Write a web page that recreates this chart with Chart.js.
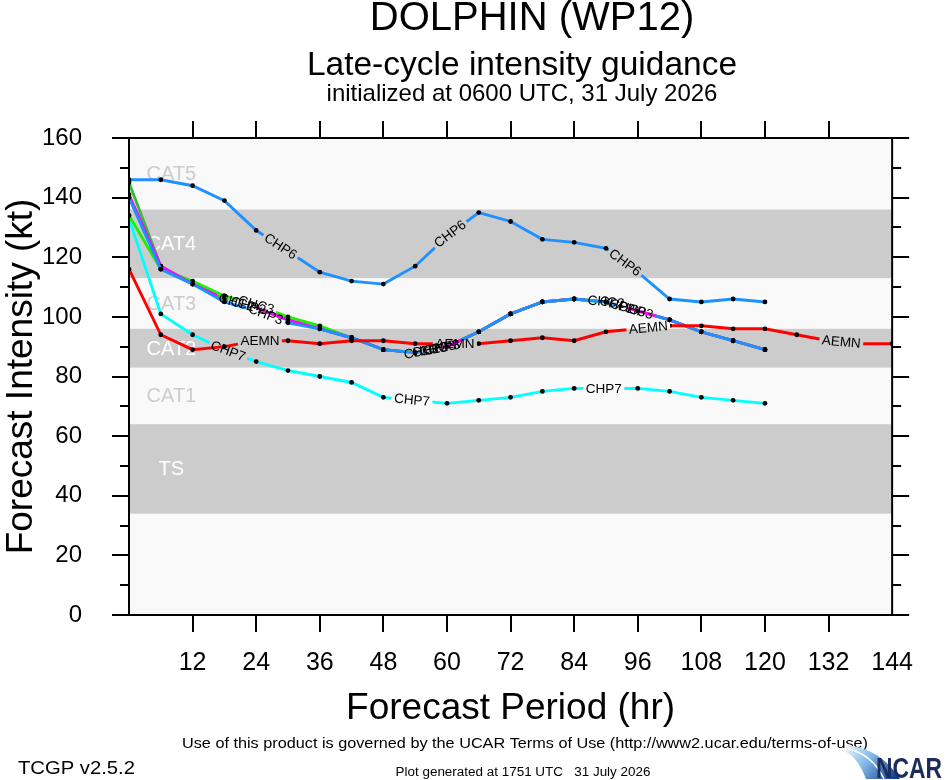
<!DOCTYPE html>
<html><head><meta charset="utf-8">
<script src="https://cdn.jsdelivr.net/npm/chart.js@4.4.1/dist/chart.umd.min.js"></script>
<style>html,body{margin:0;padding:0;background:#fff;}canvas{display:block;}</style>
</head><body>
<canvas id="c" width="946" height="780"></canvas>
<script>
// ---------- data ----------
const hours = [0,6,12,18,24,30,36,42,48,54,60,66,72,78,84,90,96,102,108,114,120];
const hoursLong = [0,6,12,18,24,30,36,42,48,54,60,66,72,78,84,90,96,102,108,114,120,126,132,138,144];
const chp6 = [146,146,144,139,129,122,115,112,111,117,127,135,132,126,125,123,115,106,105,106,105];
const chp7 = [133,101,94,89,85,82,80,78,73,72,71,72,73,75,76,76,76,75,73,72,71];
const aemn = [116,94,89,90,92,92,91,92,92,91,91,91,92,93,92,95,96,97,97,96,96,94,92,91,91];
const chp3 = [140,116,111,105,102,98,96,93,89,88,90,95,101,105,106,105,102,99,95,92,89];
const chc2 = [141,117,111,106,103,99,96,93,89,88,90,95,101,105,106,105,102,99,95,92,89];
const chc3 = [134,116,112,107,104,100,97,93,89,88,90,95,101,105,106,105,102,99,95,92,89];
const chp2 = [145,117,111,106,103,99,96,93,89,88,90,95,101,105,106,105,102,99,95,92,89];
const xTicks = [12,24,36,48,60,72,84,96,108,120,132,144];
const yTicks = [0,20,40,60,80,100,120,140,160];
const bandEdges = [0,34,64,83,96,113,136,160];
const bandNames = ['','TS','CAT1','CAT2','CAT3','CAT4','CAT5'];
// label positions along each line (forecast hour)
const labelHours = {
  CHP6:[28.6,60.6,93.6], CHP7:[18.7,53.4,89.6], AEMN:[24.7,61.5,98,134.4],
  CHC2:[20.3,55.3,90], CHP2:[22.5,56.8,92.1], CHC3:[24,58.2,94.1], CHP3:[25.8,59.1,95.6]
};

const FONT = "'Liberation Sans', Arial, Helvetica, sans-serif";
const LBL = 13.5;
Chart.defaults.font.family = FONT;

function mk(label, xs, ys, color, order){
  return { label, data: xs.map((x,i)=>({x, y: ys[i]})), borderColor: color, backgroundColor: color,
    borderWidth: 2.9, tension: 0, order, pointRadius: 2.4, pointBackgroundColor:'#000',
    pointBorderWidth: 0, pointHoverRadius: 2.4, fill: false };
}
const datasets = [
  mk('CHP3', hours, chp3, '#1e90ff', 1),
  mk('CHC2', hours, chc2, '#ff00ff', 2),
  mk('CHC3', hours, chc3, '#22ee00', 3),
  mk('CHP2', hours, chp2, '#33bb33', 4),
  mk('AEMN', hoursLong, aemn, '#ff0000', 0),
  mk('CHP7', hours, chp7, '#00ffff', 5),
  mk('CHP6', hours, chp6, '#1e90ff', 6)
];

let geoms = [];
function computeGeoms(chart){
  const ctx = chart.ctx;
  ctx.save(); ctx.font = LBL + 'px ' + FONT;
  geoms = chart.data.datasets.map((ds, di) => {
    const hs = labelHours[ds.label] || [];
    const meta = chart.getDatasetMeta(di);
    const pts = meta.data;
    return hs.map(h => {
      let i = 0;
      while (i < ds.data.length - 2 && ds.data[i+1].x < h) i++;
      const x0 = ds.data[i].x, x1 = ds.data[i+1].x;
      const t = (h - x0) / (x1 - x0);
      const p0 = pts[i], p1 = pts[i+1];
      const w = ctx.measureText(ds.label).width;
      return { text: ds.label, x: p0.x + t*(p1.x-p0.x), y: p0.y + t*(p1.y-p0.y),
               a: Math.atan2(p1.y-p0.y, p1.x-p0.x), w: w + 5, h: 15 };
    });
  });
  ctx.restore();
}

function fitText(ctx, text, x, y, size, width, align, weight){
  ctx.save();
  ctx.font = (weight||'') + ' ' + size + 'px ' + FONT;
  const m = ctx.measureText(text).width;
  const s = width ? width / m : 1;
  ctx.translate(x, y); ctx.scale(s, 1);
  ctx.textAlign = align || 'center'; ctx.textBaseline = 'alphabetic';
  ctx.fillText(text, 0, 0);
  ctx.restore();
}

const decor = {
  id: 'decor',
  beforeDatasetsDraw(chart){
    const {ctx, chartArea: a, scales: {y}} = chart;
    ctx.save();
    ctx.fillStyle = '#f9f9f9';
    ctx.fillRect(a.left, a.top, a.right - a.left, a.bottom - a.top);
    for (let i = 0; i < bandNames.length; i++){
      const yb = y.getPixelForValue(bandEdges[i]), yt = y.getPixelForValue(bandEdges[i+1]);
      const gray = i % 2 === 1;
      if (gray){ ctx.fillStyle = '#cccccc'; ctx.fillRect(a.left, yt, a.right - a.left, yb - yt); }
      if (bandNames[i]){
        ctx.fillStyle = gray ? '#ffffff' : '#cccccc';
        ctx.font = '20px ' + FONT; ctx.textAlign = 'center'; ctx.textBaseline = 'middle';
        ctx.fillText(bandNames[i], chart.scales.x.getPixelForValue(8), (yb + yt) / 2 + 1);
      }
    }
    ctx.restore();
    computeGeoms(chart);
  },
  beforeDatasetDraw(chart, args){
    const g = geoms[args.index]; if (!g || !g.length) return;
    const ctx = chart.ctx;
    ctx.save(); ctx.beginPath(); ctx.rect(0, 0, chart.width, chart.height);
    for (const L of g){
      const c = Math.cos(L.a), s = Math.sin(L.a), hw = L.w/2, hh = L.h/2;
      const pts = [[-hw,-hh],[hw,-hh],[hw,hh],[-hw,hh]].map(([u,v]) => [L.x + u*c - v*s, L.y + u*s + v*c]);
      ctx.moveTo(pts[0][0], pts[0][1]);
      for (let k = 1; k < 4; k++) ctx.lineTo(pts[k][0], pts[k][1]);
      ctx.closePath();
    }
    ctx.clip('evenodd');
  },
  afterDatasetDraw(chart, args){
    const g = geoms[args.index]; if (!g || !g.length) return;
    chart.ctx.restore();
  },
  afterDatasetsDraw(chart){
    const {ctx, chartArea: a, scales: {x, y}} = chart;
    ctx.save();
    // line labels
    ctx.fillStyle = '#000'; ctx.font = LBL + 'px ' + FONT; ctx.textAlign = 'center'; ctx.textBaseline = 'middle';
    for (const g of geoms) for (const L of g){
      ctx.save(); ctx.translate(L.x, L.y); ctx.rotate(L.a); ctx.fillText(L.text, 0, 0.5); ctx.restore();
    }
    // frame and ticks
    ctx.strokeStyle = '#000'; ctx.lineWidth = 2; ctx.lineCap = 'butt';
    ctx.strokeRect(a.left, a.top, a.right - a.left, a.bottom - a.top);
    ctx.beginPath();
    for (let v = 0; v <= 160; v += 10){
      const py = Math.round(y.getPixelForValue(v));
      const len = v % 20 === 0 ? 17 : 9;
      ctx.moveTo(a.left - len, py); ctx.lineTo(a.left, py);
      ctx.moveTo(a.right, py); ctx.lineTo(a.right + len, py);
    }
    for (const h of xTicks){
      if (h >= 144) continue;
      const px = Math.round(x.getPixelForValue(h));
      ctx.moveTo(px, a.bottom); ctx.lineTo(px, a.bottom + 17);
      ctx.moveTo(px, a.top); ctx.lineTo(px, a.top - 17);
    }
    ctx.stroke();
    ctx.restore();
  },
  afterDraw(chart){
    const {ctx, chartArea: a} = chart;
    ctx.save(); ctx.fillStyle = '#000';
    fitText(ctx, 'DOLPHIN (WP12)', 532, 30, 40);
    fitText(ctx, 'Late-cycle intensity guidance', 522, 75, 33.5);
    fitText(ctx, 'initialized at 0600 UTC, 31 July 2026', 522, 101, 24);
    fitText(ctx, 'Forecast Period (hr)', (a.left + a.right)/2, 719, 37);
    ctx.save(); ctx.translate(32, (a.top + a.bottom)/2); ctx.rotate(-Math.PI/2);
    fitText(ctx, 'Forecast Intensity (kt)', 0, 0, 37); ctx.restore();
    fitText(ctx, 'Use of this product is governed by the UCAR Terms of Use (http://www2.ucar.edu/terms-of-use)', 525, 748, 15, 686);
    fitText(ctx, 'TCGP v2.5.2', 18, 774, 19, 117, 'left');
    fitText(ctx, 'Plot generated at 1751 UTC   31 July 2026', 523, 776, 12.5, 255);
    // NCAR logo
    const gr = ctx.createLinearGradient(850, 742, 895, 778);
    gr.addColorStop(0, '#e8f3fb'); gr.addColorStop(0.45, '#7fb6e6'); gr.addColorStop(1, '#123f8c');
    ctx.fillStyle = gr;
    ctx.beginPath(); ctx.moveTo(846, 745); ctx.quadraticCurveTo(880, 748, 900, 779);
    ctx.lineTo(866, 779); ctx.quadraticCurveTo(858, 758, 846, 752); ctx.closePath(); ctx.fill();
    ctx.strokeStyle = '#ffffff'; ctx.lineWidth = 1.5;
    ctx.beginPath(); ctx.moveTo(848, 749); ctx.quadraticCurveTo(872, 754, 884, 779); ctx.stroke();
    ctx.fillStyle = '#1b2b5c';
    fitText(ctx, 'NCAR', 942, 778, 29, 66, 'right', 'bold');
    ctx.restore();
  }
};

new Chart(document.getElementById('c'), {
  type: 'line',
  data: { datasets },
  options: {
    responsive: false, animation: false, devicePixelRatio: 1,
    layout: { padding: { top: 138, right: 23, left: 0, bottom: 0 } },
    plugins: { legend: { display: false }, tooltip: { enabled: false }, title: { display: false } },
    events: [],
    scales: {
      x: { type: 'linear', min: 0, max: 144, position: 'bottom',
        afterFit(s){ s.height = 165; },
        afterBuildTicks(s){ s.ticks = xTicks.map(v => ({ value: v })); },
        ticks: { autoSkip: false, maxRotation: 0, color: '#000', font: { size: 25 }, padding: 33 },
        grid: { display: false, drawTicks: false }, border: { display: false } },
      y: { type: 'linear', min: 0, max: 160, position: 'left',
        afterFit(s){ s.width = 129; },
        afterBuildTicks(s){ s.ticks = yTicks.map(v => ({ value: v })); },
        ticks: { autoSkip: false, color: '#000', font: { size: 24 }, padding: 47 },
        grid: { display: false, drawTicks: false }, border: { display: false } }
    }
  },
  plugins: [decor]
});
</script>
</body></html>
